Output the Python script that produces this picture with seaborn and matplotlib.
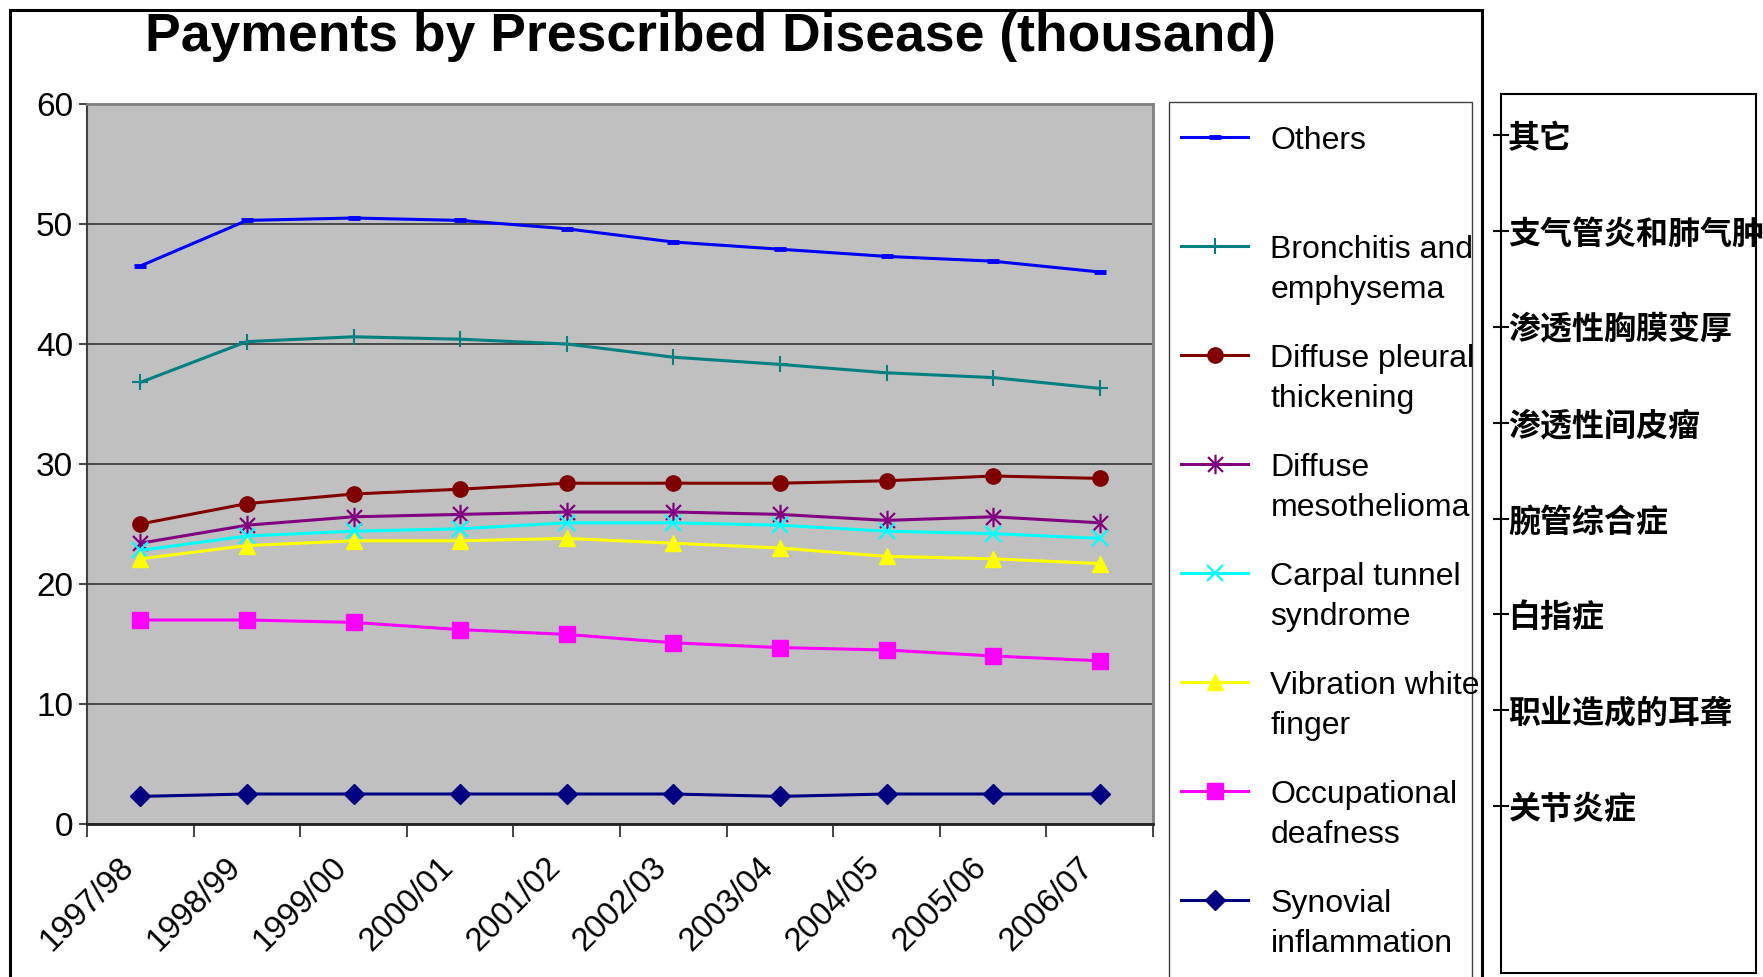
import numpy as np
import pandas as pd
import seaborn as sns
import matplotlib.pyplot as plt
from matplotlib.patches import Rectangle
from matplotlib.path import Path
from matplotlib.transforms import ScaledTranslation

years = ["1997/98", "1998/99", "1999/00", "2000/01", "2001/02",
         "2002/03", "2003/04", "2004/05", "2005/06", "2006/07"]

# payments, thousand
others = [46.5, 50.3, 50.5, 50.3, 49.6, 48.5, 47.9, 47.3, 46.9, 46.0]
bronchitis = [36.8, 40.2, 40.6, 40.4, 40.0, 38.9, 38.3, 37.6, 37.2, 36.3]
pleural = [25.0, 26.7, 27.5, 27.9, 28.4, 28.4, 28.4, 28.6, 29.0, 28.8]
mesothelioma = [23.4, 24.9, 25.6, 25.8, 26.0, 26.0, 25.8, 25.3, 25.6, 25.1]
carpal = [22.8, 24.0, 24.4, 24.6, 25.1, 25.1, 24.9, 24.4, 24.2, 23.8]
vibration = [22.1, 23.2, 23.6, 23.6, 23.8, 23.4, 23.0, 22.3, 22.1, 21.7]
deafness = [17.0, 17.0, 16.8, 16.2, 15.8, 15.1, 14.7, 14.5, 14.0, 13.6]
synovial = [2.3, 2.5, 2.5, 2.5, 2.5, 2.5, 2.3, 2.5, 2.5, 2.5]

labels_en = ["Others\n ", "Bronchitis and\nemphysema", "Diffuse pleural\nthickening",
             "Diffuse\nmesothelioma", "Carpal tunnel\nsyndrome", "Vibration white\nfinger",
             "Occupational\ndeafness", "Synovial\ninflammation"]
labels_cn = ["其它", "支气管炎和肺气肿", "渗透性胸膜变厚", "渗透性间皮瘤",
             "腕管综合症", "白指症", "职业造成的耳聋", "关节炎症"]

colors = ["#0000FF", "#008080", "#800000", "#800080",
          "#00FFFF", "#FFFF00", "#FF00FF", "#000080"]

# excel style asterisk: an x with a vertical bar
asterisk = Path([(-1, -1), (1, 1), (-1, 1), (1, -1), (0, -1.3), (0, 1.3)],
                [Path.MOVETO, Path.LINETO] * 3)
markers = ["_", "+", "o", asterisk, "x", "^", "s", "D"]
msizes = [8, 11, 11, 14, 11, 12, 11, 10]
medges = [3.5, 1.5, 1, 1.6, 1.6, 1, 1, 1]

series = [others, bronchitis, pleural, mesothelioma, carpal, vibration, deafness, synovial]

W, H = 1763, 977
plt.rcParams["font.family"] = ["Liberation Sans", "DejaVu Sans"]
fig = plt.figure(figsize=(W / 100, H / 100), dpi=100)
ax = fig.add_axes([87 / W, 1 - 824 / H, (1153 - 87) / W, (824 - 104) / H])
ax.set_facecolor("#C0C0C0")

x = np.arange(len(years))
for vals, lab, c, m, ms, mew in zip(series, labels_en, colors, markers, msizes, medges):
    df = pd.DataFrame({"year": x, "value": vals})
    sns.lineplot(data=df, x="year", y="value", ax=ax, color=c, lw=2.2,
                 marker=m, markersize=ms, markeredgewidth=mew,
                 markeredgecolor=c, markerfacecolor=c, label=lab)

ax.set_xlim(-0.5, len(years) - 0.5)
ax.set_ylim(0, 60)
ax.set_yticks(range(0, 61, 10))
ax.tick_params(axis="y", labelsize=24, length=6, width=1.2, color="#222222", pad=4)
ax.set_xticks(x)
ax.set_xticklabels(years, rotation=45, ha="right", va="center",
                   rotation_mode="anchor", fontsize=23.5)
ax.tick_params(axis="x", length=0, pad=28)
shift = ScaledTranslation(-8 / 72, 0, fig.dpi_scale_trans)
for t in ax.get_xticklabels():
    t.set_transform(t.get_transform() + shift)
ax.set_xticks(np.arange(-0.5, len(years)), minor=True)
ax.tick_params(axis="x", which="minor", length=9, width=1.2, color="#222222")
ax.set_xlabel("")
ax.set_ylabel("")
ax.yaxis.grid(True, color="#404040", lw=1.3)
ax.set_axisbelow(True)
for s in ["top", "right"]:
    ax.spines[s].set_color("#808080")
    ax.spines[s].set_linewidth(2)
ax.spines["left"].set_color("#404040")
ax.spines["bottom"].set_color("#222222")
ax.spines["left"].set_linewidth(1.5)
ax.spines["bottom"].set_linewidth(2)

handles, labs = ax.get_legend_handles_labels()
ax.get_legend().remove()
leg = fig.legend(handles, labs, loc="upper left", bbox_to_anchor=(1181 / W, 1 - 126 / H),
                 frameon=False, fontsize=23, handlelength=2.1, handletextpad=0.7,
                 labelspacing=1.21, borderpad=0, borderaxespad=0)
for t in leg.get_texts():
    t.set_linespacing(1.45)
for col in leg._legend_handle_box.get_children():
    for row in col.get_children():
        row.align = "top"
fig.add_artist(Rectangle((1169 / W, -0.05), (1472 - 1169) / W, 1 - 102 / H + 0.05,
                         transform=fig.transFigure, fill=False, ec="#404040", lw=1))

# outer chart frame
fig.add_artist(Rectangle((10 / W, -0.05), (1482 - 10) / W, 1 - 10 / H + 0.05,
                         transform=fig.transFigure, fill=False, ec="black", lw=2.2))

fig.text(710 / W, 1 - 37 / H, "Payments by Prescribed Disease (thousand)",
         ha="center", va="center", fontsize=38.5, fontweight="bold")

# chinese labels panel
cax = fig.add_axes([1501 / W, 1 - 973 / H, (1756 - 1501) / W, (973 - 94) / H])
cax.set_xlim(0, 1)
cax.set_ylim(8.74, -0.43)
cax.set_xticks([])
cax.set_yticks(range(len(labels_cn)))
cax.set_yticklabels(labels_cn, fontsize=23, fontweight="bold",
                    family=["Noto Sans CJK SC", "DejaVu Sans"])
cax.tick_params(axis="y", direction="inout", length=12, width=1.5, pad=-11)
for t in cax.get_yticklabels():
    t.set_ha("left")
for s in cax.spines.values():
    s.set_linewidth(1.5)

fig.savefig("out.png", dpi=100)
